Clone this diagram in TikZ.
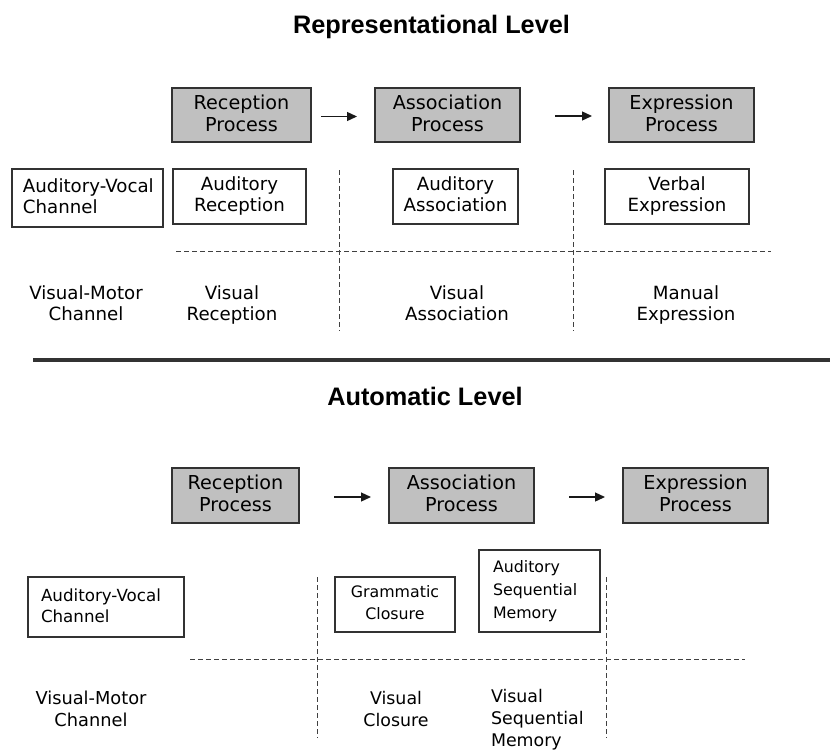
\documentclass[tikz,border=0pt]{standalone}
\usepackage{fontspec}
\setmainfont{DejaVu Sans}
\newfontfamily\titlefamily{Liberation Sans}
\usetikzlibrary{arrows.meta}
\definecolor{procgray}{RGB}{192,192,192}
\definecolor{edgegray}{RGB}{50,50,50}
\newcommand{\mytopstrut}[1]{\rule{0pt}{#1}}
\newcommand{\mybotstrut}[1]{\rule[-#1]{0pt}{#1}}
\begin{document}
\begin{tikzpicture}[x=1pt,y=-1pt,
  every node/.style={inner sep=0pt, outer sep=0pt},
  proc/.style={draw=edgegray, line width=1.5pt, fill=procgray, align=center,
    execute at begin node=\mytopstrut{17pt}, execute at end node=\mybotstrut{4.5pt},
    font=\fontsize{19.2}{22}\selectfont},
  plainbox/.style={draw=edgegray, line width=1.2pt, fill=white, align=center,
    execute at begin node=\mytopstrut{14pt}, execute at end node=\mybotstrut{4.5pt},
    font=\fontsize{18.2}{21.5}\selectfont},
  lbl/.style={align=center,
    execute at begin node=\mytopstrut{14pt}, execute at end node=\mybotstrut{4.5pt},
    font=\fontsize{18.2}{21}\selectfont},
  ttl/.style={anchor=base, font=\titlefamily\bfseries\fontsize{25.3}{30}\selectfont},
  arr/.style={-{Triangle[length=10pt,width=9pt]}, line width=1.3pt, black!90},
  gridline/.style={dash pattern=on 5pt off 3pt, line width=0.9pt, black!75},
]
\useasboundingbox (0,0) rectangle (830,753);

% ---------------- Representational Level ----------------
\node[ttl] (t1) at (431.5,33) {Representational Level};

\node[proc, minimum width=139pt, minimum height=54pt] (rp1) at (241.5,115) {Reception\\Process};
\node[proc, minimum width=145pt, minimum height=54pt] (ap1) at (447.5,115) {Association\\Process};
\node[proc, minimum width=145pt, minimum height=54pt] (ep1) at (681.5,115) {Expression\\Process};
\draw[arr, shorten <=10pt, shorten >=18pt] ([yshift=-1.5pt]rp1.east) -- ([yshift=-1.5pt]ap1.west);
\draw[arr, shorten <=35pt, shorten >=17pt] ([yshift=-1pt]ap1.east) -- ([yshift=-1pt]ep1.west);

\node[plainbox, minimum width=151pt, minimum height=58pt, inner xsep=11pt,
      text width=129pt, align=left] (av1) at (87.5,198) {\mbox{Auditory-Vocal}\\Channel};
\node[plainbox, minimum width=133pt, minimum height=55pt] (ar1) at (239.5,196.5) {Auditory\\Reception};
\node[plainbox, minimum width=125pt, minimum height=55pt] (aa1) at (455.5,196.5) {Auditory\\Association};
\node[plainbox, minimum width=144pt, minimum height=55pt] (ve1) at (677,196.5) {Verbal\\Expression};

\draw[gridline] (176,251) -- (771,251);
\draw[gridline] (339,170) -- (339,331);
\draw[gridline] (573,170) -- (573,331);

\node[lbl] (vm1) at (86,305) {Visual-Motor\\Channel};
\node[lbl] (vr1) at (232,305) {Visual\\Reception};
\node[lbl] (va1) at (457,305) {Visual\\Association};
\node[lbl] (me1) at (686,305) {Manual\\Expression};

% ---------------- separator ----------------
\draw[line width=4pt, edgegray] (33,360) -- (830,360);

% ---------------- Automatic Level ----------------
\node[ttl] (t2) at (425,405) {Automatic Level};

\node[proc, minimum width=127pt, minimum height=55pt] (rp2) at (235.5,495.5) {Reception\\Process};
\node[proc, minimum width=145pt, minimum height=55pt] (ap2) at (461.5,495.5) {Association\\Process};
\node[proc, minimum width=145pt, minimum height=55pt] (ep2) at (695.5,495.5) {Expression\\Process};
\draw[arr, shorten <=35pt, shorten >=18pt] ([yshift=-1.5pt]rp2.east) -- ([yshift=-1.5pt]ap2.west);
\draw[arr, shorten <=35pt, shorten >=18pt] ([yshift=-1.5pt]ap2.east) -- ([yshift=-1.5pt]ep2.west);

\node[plainbox, minimum width=156pt, minimum height=60pt, inner xsep=13pt,
      text width=130pt, align=left, font=\fontsize{16.7}{21.5}\selectfont]
      (av2) at (106,607) {\mbox{Auditory-Vocal}\\Channel};
\node[plainbox, minimum width=120pt, minimum height=55pt,
      font=\fontsize{15.8}{22}\selectfont] (gc2) at (395,604.5) {Grammatic\\Closure};
\node[plainbox, minimum width=121pt, minimum height=82pt, inner xsep=14pt,
      text width=93pt, align=left, font=\fontsize{15.8}{23}\selectfont]
      (as2) at (539.5,591) {Auditory\\Sequential\\Memory};

\draw[gridline] (190,659) -- (745,659);
\draw[gridline] (317,577) -- (317,738);
\draw[gridline] (606,577) -- (606,738);

\node[lbl, font=\fontsize{17.8}{22}\selectfont] (vm2) at (91,711) {Visual-Motor\\Channel};
\node[lbl, font=\fontsize{17.4}{22}\selectfont] (vc2) at (396,711) {Visual\\Closure};
\node[lbl, align=left, anchor=west, font=\fontsize{17.4}{22}\selectfont] (vs2) at (491,720) {Visual\\Sequential\\Memory};
\end{tikzpicture}
\end{document}
